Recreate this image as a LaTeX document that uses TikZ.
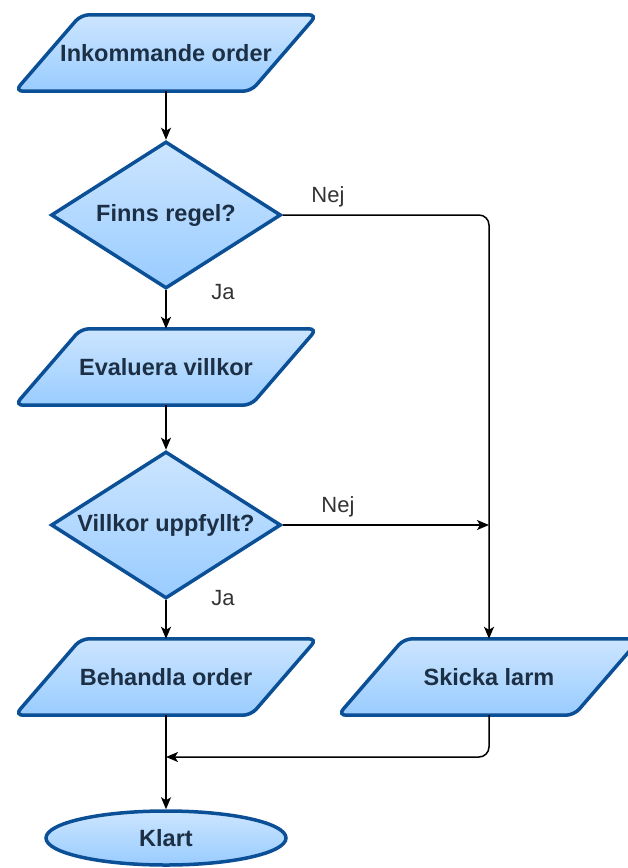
\documentclass[tikz,border=0pt]{standalone}
\usepackage{fontspec}
\setmainfont{Liberation Sans}
\usetikzlibrary{shapes.geometric,arrows.meta,backgrounds}

\definecolor{boxline}{HTML}{0B4F96}
\definecolor{boxtop}{HTML}{CCE5FF}
\definecolor{boxbot}{HTML}{99CCFF}
\definecolor{boxtext}{HTML}{1C2F45}
\definecolor{labtext}{HTML}{333333}

% text that does not widen its shape
\newcommand\nowide[1]{\makebox[0pt]{#1}}

\begin{document}
\begin{tikzpicture}
  [x=1pt,y=-1pt,
   box/.style={draw=boxline,line width=3.5pt,top color=boxtop,bottom color=boxbot},
   boxtxt/.style={text=boxtext,inner sep=0pt,font=\bfseries\fontsize{23.5}{28}\selectfont},
   io/.style={boxtxt,minimum width=300pt,minimum height=76pt},
   decision/.style={box,boxtxt,diamond,minimum width=230pt,minimum height=147pt},
   stop/.style={box,boxtxt,ellipse,minimum width=240pt,minimum height=54pt},
   flow/.style={-{Stealth[length=12pt,width=10pt,inset=3pt]},line width=1.5pt},
   lab/.style={text=labtext,font=\fontsize{22}{26}\selectfont}]

  \useasboundingbox (0,0) rectangle (627,868);

  \node[io] (order) at (166,53) {Inkommande order};
  \node[decision] (regel) at (166,215) {\nowide{Finns regel?}};
  \node[io] (eval) at (166,367) {Evaluera villkor};
  \node[decision] (villkor) at (166,525) {\nowide{Villkor uppfyllt?}};
  \node[io] (behandla) at (166,677) {Behandla order};
  \node[io] (larm) at (489,677) {Skicka larm};
  \node[stop] (klart) at (166,838) {\nowide{Klart}};

  % parallelograms behind the io nodes
  \begin{scope}[on background layer]
    \foreach \n in {order,eval,behandla,larm}
      \draw[box,rounded corners=8pt] ([xshift=-151pt]\n.south) -- ([xshift=85pt]\n.south)
        -- ([xshift=151pt]\n.north) -- ([xshift=-85pt]\n.north) -- cycle;
  \end{scope}

  \coordinate (tee) at (villkor.east -| larm.north);
  \coordinate (meet) at (166,757);

  \foreach \from/\to in
  {order/regel,regel/eval,eval/villkor,villkor/behandla,behandla/klart}
    \draw[flow] (\from.south) -- (\to.north);

  \draw[flow,rounded corners=10pt] (regel.east) -| (larm.north);
  \draw[flow] (villkor.east) -- (tee);
  \draw[flow,rounded corners=10pt] (larm.south) |- (meet);

  \node[lab] (nej1) at (328,197) {Nej};
  \node[lab] (ja1) at (223,292) {Ja};
  \node[lab] (nej2) at (338,507) {Nej};
  \node[lab] (ja2) at (223,598) {Ja};
\end{tikzpicture}
\end{document}
